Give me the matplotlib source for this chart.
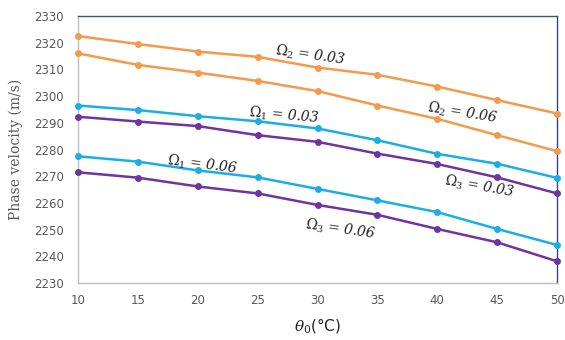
import matplotlib
matplotlib.use("Agg")
import matplotlib.pyplot as plt

theta = [10, 15, 20, 25, 30, 35, 40, 45, 50]
omega2_003 = [2322.5, 2319.5, 2316.7, 2314.7, 2310.7, 2308.0, 2303.6, 2298.5, 2293.5]
omega2_006 = [2316.0, 2311.7, 2308.8, 2305.7, 2301.9, 2296.5, 2291.5, 2285.4, 2279.4]
omega1_003 = [2296.5, 2294.8, 2292.5, 2290.6, 2287.9, 2283.5, 2278.4, 2274.7, 2269.4]
omega3_003 = [2292.3, 2290.5, 2288.8, 2285.4, 2282.9, 2278.5, 2274.6, 2269.6, 2263.6]
omega1_006 = [2277.5, 2275.5, 2272.2, 2269.6, 2265.3, 2261.0, 2256.6, 2250.3, 2244.3]
omega3_006 = [2271.5, 2269.5, 2266.2, 2263.6, 2259.3, 2255.6, 2250.3, 2245.3, 2238.2]

labels = [r"$\mathit{\Omega}_2$ = 0.03", r"$\mathit{\Omega}_2$ = 0.06",
          r"$\mathit{\Omega}_1$ = 0.03", r"$\mathit{\Omega}_1$ = 0.06",
          r"$\mathit{\Omega}_3$ = 0.03", r"$\mathit{\Omega}_3$ = 0.06"]
label_pos = [(29.4, 2315.3), (42.1, 2293.8), (27.2, 2292.8),
             (20.4, 2274.4), (43.5, 2266.1), (31.9, 2250.0)]
label_rot = [-8, -9, -5, -7, -10, -8]

orange = "#F39B4C"
blue = "#1BAEE6"
purple = "#7034A0"

plt.rcParams['mathtext.fontset'] = 'dejavuserif'

fig = plt.figure(figsize=(5.65, 3.40), dpi=100)
ax = fig.add_axes([0.138, 0.167, 0.848, 0.786])

series = [(omega2_003, orange), (omega2_006, orange), (omega1_003, blue),
          (omega3_003, purple), (omega1_006, blue), (omega3_006, purple)]
for vals, c in series:
    ax.plot(theta, vals, color=c, lw=1.8, marker='o', ms=4, zorder=3, clip_on=False)

for t, (x, y), r in zip(labels, label_pos, label_rot):
    ax.text(x, y, t, rotation=r, ha='center', va='center', fontsize=10,
            family='DejaVu Serif', style='italic', color='#222222', rotation_mode='anchor')

ax.set_xlim(10, 50)
ax.set_ylim(2230, 2330)
ax.set_xticks(theta)
ax.set_yticks(range(2230, 2331, 10))
ax.tick_params(axis='both', length=0, labelsize=8.5, colors='#595959', pad=8)
ax.tick_params(axis='y', pad=10)

ax.spines['left'].set_color('#BFBFBF')
ax.spines['bottom'].set_color('#BFBFBF')
ax.spines['top'].set_color('#44546A')
ax.spines['right'].set_color('#2F4A7A')
for s in ax.spines.values():
    s.set_linewidth(1.0)

ax.set_ylabel("Phase velocity (m/s)", family='DejaVu Serif', fontsize=10, color='#595959', labelpad=8)
ax.set_xlabel(r"$\theta_0$(°C)", fontsize=11, color='#222222', labelpad=6)

fig.savefig("out.png", dpi=100)
